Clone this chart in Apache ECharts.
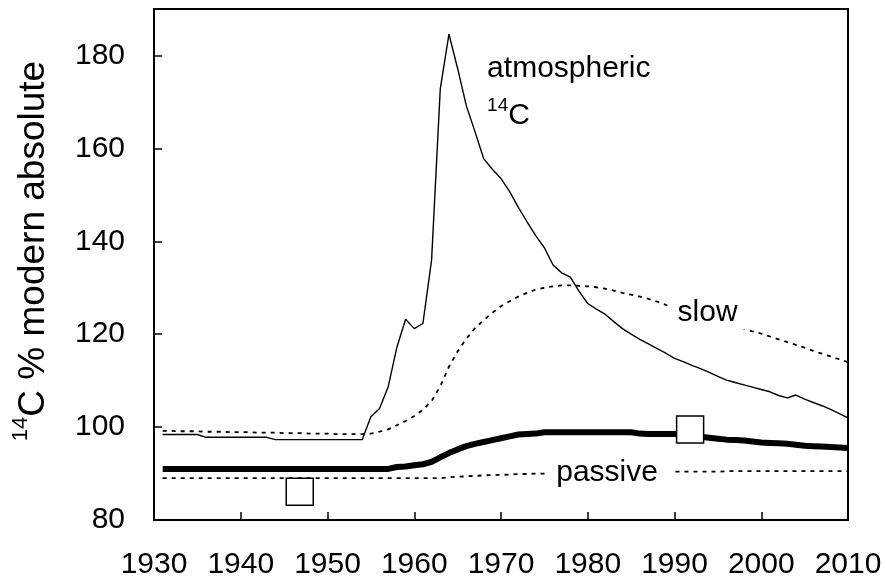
<!DOCTYPE html>
<html>
<head>
<meta charset="utf-8">
<script src="https://cdn.jsdelivr.net/npm/echarts@6/dist/echarts.min.js"></script>
<style>
html,body{margin:0;padding:0;background:#fff;}
#c{width:886px;height:588px;}
</style>
</head>
<body>
<div id="c"></div>
<script>
const years = [1931,1932,1933,1934,1935,1936,1937,1938,1939,1940,
  1941,1942,1943,1944,1945,1946,1947,1948,1949,1950,
  1951,1952,1953,1954,1955,1956,1957,1958,1959,1960,
  1961,1962,1963,1964,1965,1966,1967,1968,1969,1970,
  1971,1972,1973,1974,1975,1976,1977,1978,1979,1980,
  1981,1982,1983,1984,1985,1986,1987,1988,1989,1990,
  1991,1992,1993,1994,1995,1996,1997,1998,1999,2000,
  2001,2002,2003,2004,2005,2006,2007,2008,2009,2010];

const atmospheric = [98.4,98.4,98.4,98.4,98.4,97.8,97.8,97.8,97.8,97.8,
  97.8,97.8,97.8,97.3,97.3,97.3,97.3,97.3,97.3,97.3,
  97.3,97.3,97.3,97.3,102.2,104.0,108.7,117.2,123.2,121.2,
  122.3,136.0,172.8,184.6,177.2,169.2,163.6,157.8,155.5,153.5,
  150.7,147.3,144.2,141.2,138.6,134.9,133.2,132.3,129.2,126.6,
  125.4,124.3,122.7,121.2,120.0,118.9,117.9,116.9,115.9,114.8,
  114.1,113.3,112.6,111.8,110.9,110.1,109.6,109.1,108.6,108.1,
  107.6,106.8,106.3,106.9,106.0,105.3,104.6,103.8,102.9,102.0];

const slow = [99.2,99.2,99.1,99.1,99.1,99.0,99.0,99.0,98.9,98.9,
  98.9,98.8,98.8,98.8,98.7,98.7,98.7,98.6,98.6,98.6,
  98.5,98.5,98.5,98.5,98.6,99.0,99.5,100.4,101.3,102.4,
  103.7,105.6,108.8,113.0,116.3,119.0,121.3,123.0,124.6,126.0,
  127.1,128.1,128.9,129.6,130.0,130.3,130.5,130.5,130.4,130.3,
  130.1,129.8,129.4,128.9,128.5,128.1,127.6,127.0,126.3,125.7,
  125.1,124.5,123.9,123.4,122.8,122.3,121.7,121.2,120.6,120.1,
  119.5,118.9,118.3,117.7,117.1,116.4,115.8,115.2,114.6,114.0];

const intermediate = [91.0,91.0,91.0,91.0,91.0,91.0,91.0,91.0,91.0,91.0,
  91.0,91.0,91.0,91.0,91.0,91.0,91.0,91.0,91.0,91.0,
  91.0,91.0,91.0,91.0,91.0,91.0,91.0,91.4,91.5,91.8,
  92.0,92.5,93.5,94.4,95.2,95.9,96.4,96.8,97.2,97.6,
  98.0,98.4,98.5,98.6,98.9,98.9,98.9,98.9,98.9,98.9,
  98.9,98.9,98.9,98.9,98.9,98.6,98.5,98.5,98.5,98.5,
  98.3,98.1,97.9,97.7,97.5,97.3,97.2,97.1,96.9,96.7,
  96.6,96.5,96.4,96.2,96.0,95.9,95.8,95.7,95.6,95.5];

const passive = [89.0,89.0,89.0,89.0,89.0,89.0,89.0,89.0,89.0,89.0,
  89.0,89.0,89.0,89.0,89.0,89.0,89.0,89.0,89.0,89.0,
  89.0,89.0,89.0,89.0,89.0,89.0,89.0,89.0,89.0,89.0,
  89.0,89.0,89.0,89.2,89.3,89.4,89.5,89.6,89.7,89.7,
  89.8,89.9,89.9,90.0,90.0,90.1,90.1,90.2,90.2,90.2,
  90.3,90.3,90.3,90.3,90.4,90.4,90.4,90.4,90.4,90.4,
  90.4,90.4,90.4,90.4,90.4,90.5,90.5,90.5,90.5,90.5,
  90.5,90.5,90.5,90.5,90.5,90.5,90.5,90.5,90.5,90.5];

const obsYears = [1946.8, 1991.8];
const obsValues = [86.1, 99.5];

const labelTexts = ['atmospheric', '14', 'C', 'slow', 'passive'];
const yAxisTitle = ['14', 'C % modern absolute'];

function pairs(xs, ys) { return xs.map(function (x, i) { return [x, ys[i]]; }); }

const FONT = '"Liberation Sans", Arial, Helvetica, sans-serif';
const chart = echarts.init(document.getElementById('c'), null, { renderer: 'canvas' });

const dotted = { color: '#000', width: 1.8, type: [4, 5] };

chart.setOption({
  animation: false,
  backgroundColor: '#fff',
  grid: { left: 154, right: 38, top: 9, bottom: 68, show: true, borderColor: '#000', borderWidth: 2, backgroundColor: 'transparent' },
  xAxis: {
    type: 'value', min: 1930, max: 2010, interval: 10,
    axisLine: { onZero: false, lineStyle: { color: '#000', width: 2 } },
    axisTick: { inside: true, length: 8, lineStyle: { color: '#000', width: 1.5 } },
    axisLabel: { color: '#000', fontFamily: FONT, fontSize: 30, margin: 30,
      formatter: function (v) { return String(v); } },
    splitLine: { show: false }
  },
  yAxis: {
    type: 'value', min: 80, max: 190, interval: 20,
    axisLine: { show: true, onZero: false, lineStyle: { color: '#000', width: 2 } },
    axisTick: { show: true, inside: true, length: 8, lineStyle: { color: '#000', width: 1.5 } },
    axisLabel: { color: '#000', fontFamily: FONT, fontSize: 30, margin: 29, showMaxLabel: false,
      formatter: function (v) { return v > 185 ? '' : String(v); } },
    splitLine: { show: false }
  },
  series: [
    { name: 'slow', type: 'line', data: pairs(years, slow), symbol: 'none', lineStyle: dotted, z: 2 },
    { name: 'passive', type: 'line', data: pairs(years, passive), symbol: 'none', lineStyle: dotted, z: 2 },
    { name: 'atmospheric', type: 'line', data: pairs(years, atmospheric), symbol: 'none', lineStyle: { color: '#000', width: 1.4 }, z: 3 },
    { name: 'intermediate', type: 'line', data: pairs(years, intermediate), symbol: 'none', lineStyle: { color: '#000', width: 6 }, z: 4 },
    { name: 'observed', type: 'scatter', data: pairs(obsYears, obsValues), symbol: 'rect', symbolSize: 27,
      itemStyle: { color: '#fff', borderColor: '#000', borderWidth: 1.5, opacity: 1 }, z: 10 }
  ]
});

function px(x, y) { return chart.convertToPixel({ gridIndex: 0 }, [x, y]); }

const pAtm = px(1968.4, 177.2);
const pC = px(1968.4, 167.0);
const pSlow = px(1989.2, 124.7);
const pPas = px(1975.1, 90.1);

chart.setOption({
  graphic: [
    { type: 'text', x: pAtm[0], y: pAtm[1], z: 100,
      style: { text: labelTexts[0], fontFamily: FONT, fontSize: 30, fill: '#000', align: 'left', verticalAlign: 'middle' } },
    { type: 'text', x: pC[0], y: pC[1], z: 100,
      style: { text: '{s|' + labelTexts[1] + '}{c|' + labelTexts[2] + '}', fill: '#000', align: 'left', verticalAlign: 'middle',
        rich: { s: { fontFamily: FONT, fontSize: 19, fill: '#000', verticalAlign: 'top', lineHeight: 20 },
                c: { fontFamily: FONT, fontSize: 30, fill: '#000', lineHeight: 40 } } } },
    { type: 'text', x: pSlow[0], y: pSlow[1], z: 100,
      style: { text: labelTexts[3], fontFamily: FONT, fontSize: 30, fill: '#000', align: 'left', verticalAlign: 'middle',
        backgroundColor: '#fff', padding: [2, 10, 2, 10] } },
    { type: 'text', x: pPas[0], y: pPas[1], z: 100,
      style: { text: labelTexts[4], fontFamily: FONT, fontSize: 30, fill: '#000', align: 'left', verticalAlign: 'middle',
        backgroundColor: '#fff', padding: [2, 17, 2, 11] } },
    { type: 'text', x: 34, y: 251, rotation: Math.PI / 2, z: 100,
      style: { text: '{s|' + yAxisTitle[0] + '}{m|' + yAxisTitle[1] + '}', fill: '#000', align: 'center', verticalAlign: 'middle',
        rich: { s: { fontFamily: FONT, fontSize: 22, fill: '#000', verticalAlign: 'top', lineHeight: 24 },
                m: { fontFamily: FONT, fontSize: 37, fill: '#000', lineHeight: 48 } } } }
  ]
});
</script>
</body>
</html>
